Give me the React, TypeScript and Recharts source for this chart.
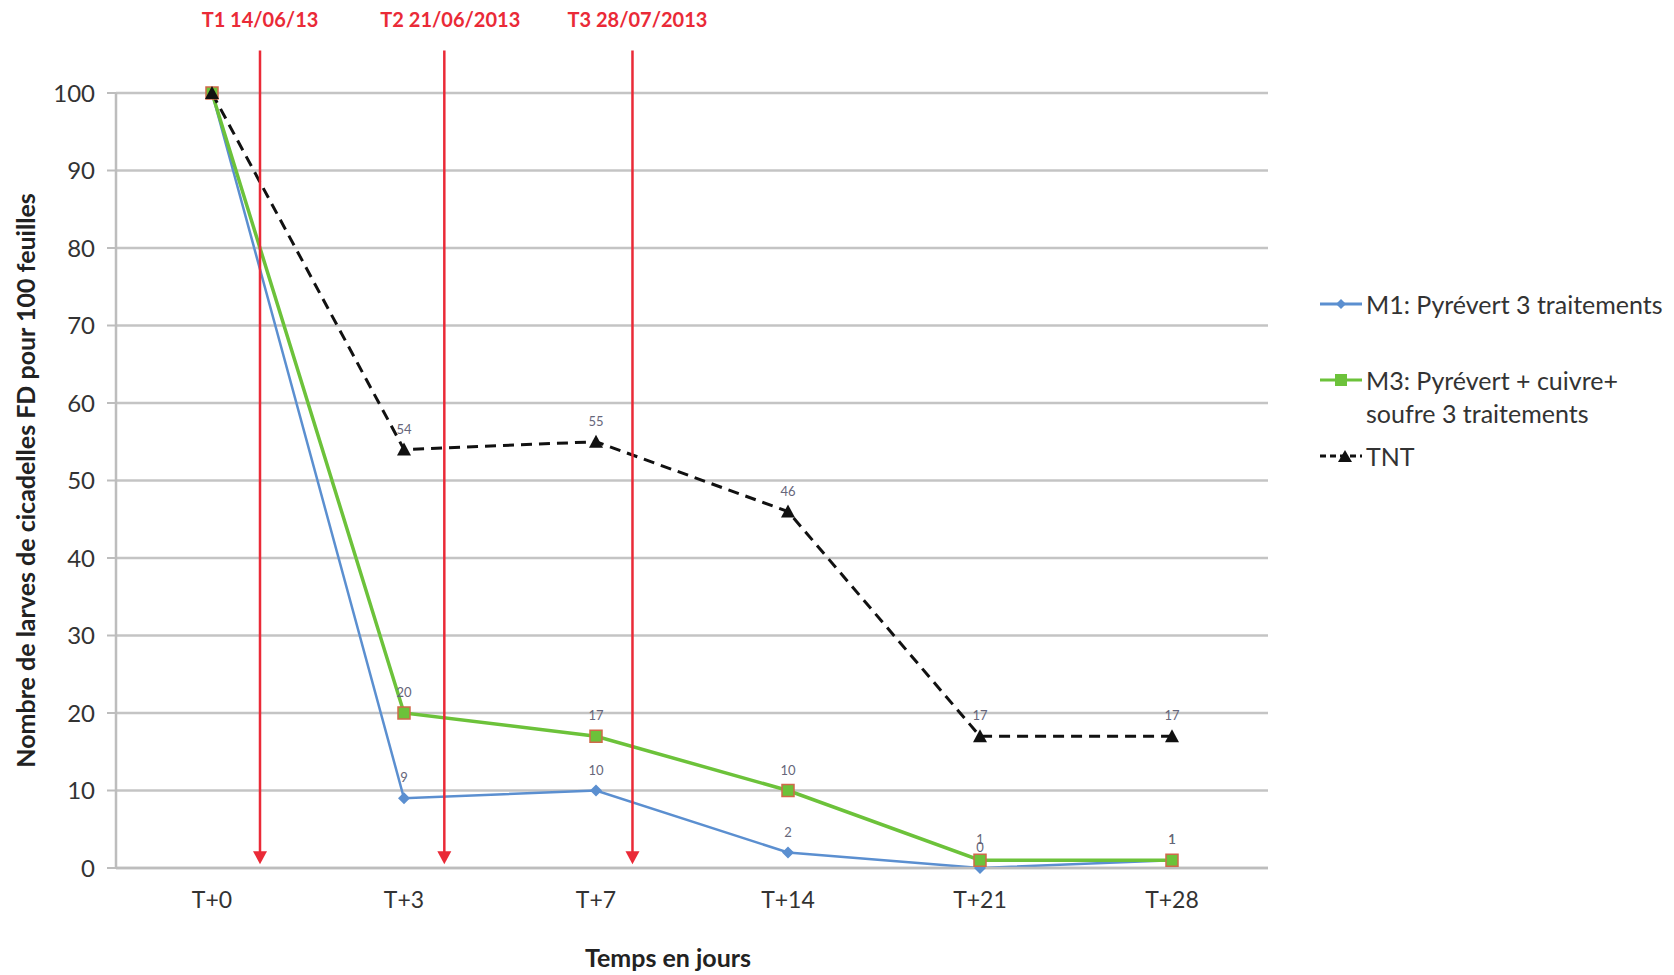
import {
  LineChart,
  Line,
  XAxis,
  YAxis,
  CartesianGrid,
  Legend,
  ReferenceLine,
  LabelList,
} from 'recharts'

const categories = ['T+0', 'T+3', 'T+7', 'T+14', 'T+21', 'T+28']
const m1Values = [100, 9, 10, 2, 0, 1]
const m3Values = [100, 20, 17, 10, 1, 1]
const tntValues = [100, 54, 55, 46, 17, 17]
const seriesNames = ['M1: Pyrévert 3 traitements', 'M3: Pyrévert + cuivre+ soufre 3 traitements', 'TNT']
const treatmentLabels = ['T1 14/06/13', 'T2 21/06/2013', 'T3 28/07/2013']
// position of each treatment arrow on the day axis (between category slots)
const treatmentPositions = [0.25, 1.21, 2.19]
const yTicks = [0, 10, 20, 30, 40, 50, 60, 70, 80, 90, 100]

const FONT = 'Lato, "Open Sans", sans-serif'
const BLUE = '#5b8fd0'
const GREEN = '#6cc23a'
const RED = '#ea2a37'

const data = categories.map((name, i) => ({
  x: i,
  name,
  m1: m1Values[i],
  m3: m3Values[i],
  tnt: tntValues[i],
}))

const Diamond = (props: any) => {
  const { cx, cy } = props
  if (cx == null || cy == null) return null
  const r = 6
  return <polygon points={`${cx},${cy - r} ${cx + r},${cy} ${cx},${cy + r} ${cx - r},${cy}`} fill={BLUE} />
}

const Square = (props: any) => {
  const { cx, cy } = props
  if (cx == null || cy == null) return null
  return <rect x={cx - 6} y={cy - 6} width={12} height={12} fill={GREEN} stroke="#d0694a" strokeWidth={1.5} />
}

const Triangle = (props: any) => {
  const { cx, cy } = props
  if (cx == null || cy == null) return null
  return <polygon points={`${cx},${cy - 7} ${cx + 7},${cy + 6} ${cx - 7},${cy + 6}`} fill="#111" />
}

const smallLabel = (props: any) => {
  const { x, y, width, value, index } = props
  if (index === 0) return null
  const cx = x + (width || 0) / 2
  return (
    <text x={cx} y={y - 16} textAnchor="middle" fontSize={13} fill="#66667a" fontFamily={FONT}>
      {value}
    </text>
  )
}

const arrowShape = (label: string, dx: number) => (props: any) => {
  const { x1, y1, y2 } = props
  return (
    <g>
      <line x1={x1} y1={y1} x2={x1} y2={y2 - 10} stroke={RED} strokeWidth={2.5} />
      <polygon points={`${x1 - 7},${y2 - 13} ${x1 + 7},${y2 - 13} ${x1},${y2}`} fill={RED} />
      <text x={x1 + dx} y={y1 - 23} textAnchor="middle" fontSize={20} fontWeight="bold" fill={RED} fontFamily={FONT}>
        {label}
      </text>
    </g>
  )
}
const labelShift = [0, 6, 5]

const legendRows = [
  { color: BLUE, dash: undefined, marker: 'diamond', lines: [seriesNames[0]] },
  { color: GREEN, dash: undefined, marker: 'square', lines: ['M3: Pyrévert + cuivre+', 'soufre 3 traitements'] },
  { color: '#111', dash: '6 4', marker: 'triangle', lines: [seriesNames[2]] },
]

const renderLegend = () => (
  <div style={{ fontFamily: FONT, fontSize: 25, color: '#333' }}>
    {legendRows.map((row, i) => (
      <div key={i} style={{ display: 'flex', alignItems: 'flex-start', marginBottom: i === 0 ? 43 : 10 }}>
        <svg width={46} height={33} style={{ flex: 'none', marginRight: 2 }}>
          <line x1={2} y1={16} x2={44} y2={16} stroke={row.color} strokeWidth={3} strokeDasharray={row.dash} />
          {row.marker === 'diamond' && <polygon points="23,11 28,16 23,21 18,16" fill={BLUE} />}
          {row.marker === 'square' && <rect x={17} y={10} width={12} height={12} fill={GREEN} />}
          {row.marker === 'triangle' && <polygon points="27,10 34,22 20,22" fill="#111" />}
        </svg>
        <div style={{ lineHeight: '33px' }}>
          {row.lines.map((l) => (
            <div key={l}>{l}</div>
          ))}
        </div>
      </div>
    ))}
  </div>
)

export default function App() {
  return (
    <div style={{ position: 'absolute', left: 0, top: 0, width: 1674, height: 975, background: '#fff' }}>
      <LineChart
        width={1674}
        height={975}
        data={data}
        margin={{ top: 93, right: 406, bottom: 0, left: 0 }}
        style={{ fontFamily: FONT }}
      >
        <CartesianGrid vertical={false} stroke="#c4c4c4" strokeWidth={2.5} />
        <XAxis
          dataKey="x"
          type="number"
          domain={[-0.5, 5.5]}
          ticks={[0, 1, 2, 3, 4, 5]}
          tickFormatter={(v: number) => categories[v]}
          tickLine={false}
          axisLine={{ stroke: '#bdbdbd', strokeWidth: 2.5 }}
          tick={{ fontSize: 23, fill: '#333', dy: 16 }}
          height={107}
          label={{ value: 'Temps en jours', position: 'insideBottom', offset: 8, dx: -24, fontSize: 25, fontWeight: 'bold', fill: '#222' }}
        />
        <YAxis
          domain={[0, 100]}
          ticks={yTicks}
          width={116}
          tickSize={9}
          tickLine={{ stroke: '#bdbdbd', strokeWidth: 2 }}
          axisLine={{ stroke: '#bdbdbd', strokeWidth: 2.5 }}
          tick={{ fontSize: 24, fill: '#333', dx: -10 }}
          label={{
            value: 'Nombre de larves de cicadelles FD pour 100 feuilles',
            angle: -90,
            position: 'insideLeft',
            offset: 26,
            style: { textAnchor: 'middle' },
            fontSize: 25,
            fontWeight: 'bold',
            fill: '#222',
          }}
        />
        <Legend
          layout="horizontal"
          verticalAlign="middle"
          align="center"
          content={renderLegend}
          wrapperStyle={{ position: 'absolute', left: 1318, top: 288, width: 356 }}
        />
        <Line
          type="linear"
          dataKey="m1"
          name={seriesNames[0]}
          stroke={BLUE}
          strokeWidth={2.5}
          dot={<Diamond />}
          isAnimationActive={false}
        >
          <LabelList dataKey="m1" content={smallLabel} />
        </Line>
        <Line
          type="linear"
          dataKey="m3"
          name={seriesNames[1]}
          stroke={GREEN}
          strokeWidth={3.5}
          dot={<Square />}
          isAnimationActive={false}
        >
          <LabelList dataKey="m3" content={smallLabel} />
        </Line>
        <Line
          type="linear"
          dataKey="tnt"
          name={seriesNames[2]}
          stroke="#111"
          strokeWidth={3}
          strokeDasharray="11 7"
          dot={<Triangle />}
          isAnimationActive={false}
        >
          <LabelList dataKey="tnt" content={smallLabel} />
        </Line>
        {treatmentPositions.map((pos, i) => (
          <ReferenceLine
            key={treatmentLabels[i]}
            segment={[
              { x: pos, y: 105.5 },
              { x: pos, y: 0.5 },
            ]}
            ifOverflow="visible"
            shape={arrowShape(treatmentLabels[i], labelShift[i])}
          />
        ))}
      </LineChart>
    </div>
  )
}
